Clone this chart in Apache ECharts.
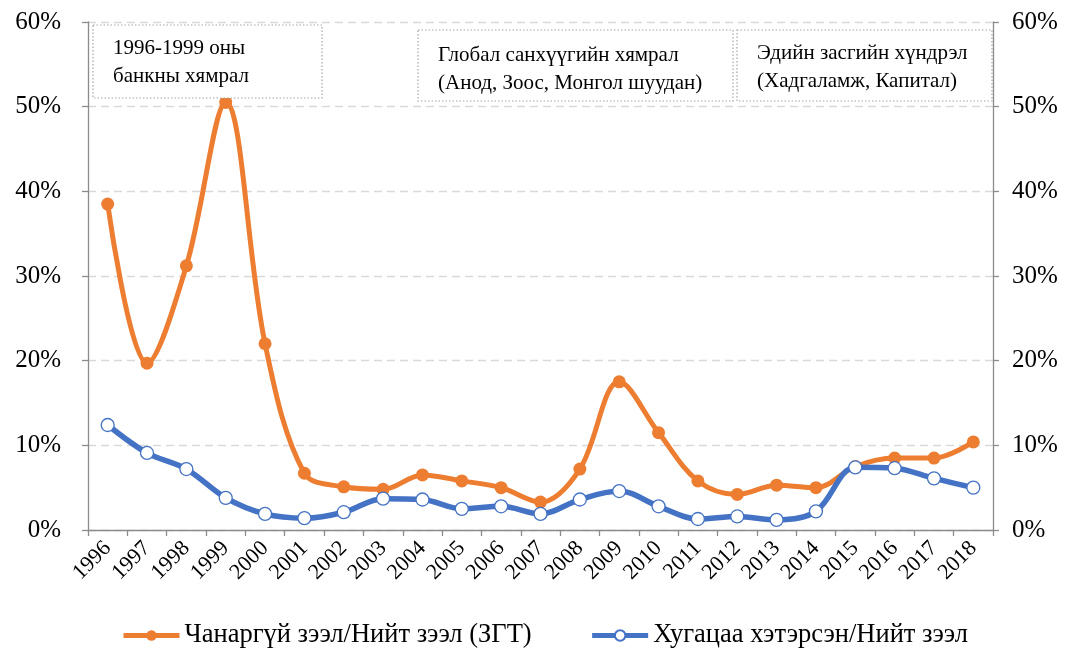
<!DOCTYPE html>
<html>
<head>
<meta charset="utf-8">
<script src="https://cdn.jsdelivr.net/npm/echarts@6/dist/echarts.min.js"></script>
<style>html,body{margin:0;padding:0;background:#fff;}#c{width:1081px;height:663px;}</style>
</head>
<body>
<div id="c"></div>
<script>
const years = ['1996','1997','1998','1999','2000','2001','2002','2003','2004','2005','2006','2007','2008','2009','2010','2011','2012','2013','2014','2015','2016','2017','2018'];
const nplRatio = [38.5,19.7,31.2,50.5,22.0,6.7,5.1,4.8,6.5,5.8,5.0,3.3,7.2,17.5,11.5,5.8,4.2,5.3,5.0,7.5,8.5,8.5,10.4];
const overdueRatio = [12.4,9.1,7.2,3.8,1.9,1.4,2.1,3.7,3.6,2.5,2.8,1.9,3.6,4.6,2.8,1.3,1.6,1.2,2.2,7.4,7.3,6.1,5.0];
const seriesNames = ['Чанаргүй зээл/Нийт зээл (ЗГТ)', 'Хугацаа хэтэрсэн/Нийт зээл'];
const notes = [
  ['1996-1999 оны', 'банкны хямрал'],
  ['Глобал санхүүгийн хямрал', '(Анод, Зоос, Монгол шуудан)'],
  ['Эдийн засгийн хүндрэл', '(Хадгаламж, Капитал)']
];

const FONT = '"Liberation Serif", "Times New Roman", serif';
const chart = echarts.init(document.getElementById('c'), null, {renderer: 'canvas'});

function box(x, y, w, h, lines, tx, ty) {
  return [
    {type: 'rect', shape: {x: x, y: y, width: w, height: h},
     style: {fill: '#fff', stroke: '#a6a6a6', lineWidth: 1.2, lineDash: [1.5, 2]}, z: 10},
    {type: 'text', x: tx, y: ty,
     style: {text: lines.join('\n'), font: '21px ' + FONT, fill: '#000', lineHeight: 28}, z: 11}
  ];
}

const yAxisCommon = {
  type: 'value', min: 0, max: 60, interval: 10,
  axisLine: {show: true, lineStyle: {color: '#8c8c8c', width: 1.3}},
  axisTick: {show: true, length: 6, lineStyle: {color: '#8c8c8c', width: 1.3}},
  axisLabel: {formatter: '{value}%', fontFamily: FONT, fontSize: 25, color: '#000'}
};

chart.setOption({
  animation: false,
  grid: {left: 88, right: 88, top: 22, bottom: 133},
  legend: {
    bottom: 9, left: 116,
    itemWidth: 56, itemHeight: 13, itemGap: 58,
    lineStyle: {width: 5},
    textStyle: {fontFamily: FONT, fontSize: 26.5, color: '#000'},
    data: seriesNames
  },
  xAxis: {
    type: 'category', data: years, boundaryGap: true,
    axisLine: {lineStyle: {color: '#8c8c8c', width: 1.3}},
    axisTick: {show: true, length: 6, alignWithLabel: false, lineStyle: {color: '#8c8c8c', width: 1.3}},
    axisLabel: {rotate: 45, interval: 0, fontFamily: FONT, fontSize: 22, color: '#000', margin: 15}
  },
  yAxis: [
    Object.assign({}, yAxisCommon, {
      position: 'left',
      axisLabel: Object.assign({}, yAxisCommon.axisLabel, {margin: 27}),
      splitLine: {show: true, lineStyle: {color: '#d9d9d9', type: [8, 5], width: 1.3}}
    }),
    Object.assign({}, yAxisCommon, {
      position: 'right',
      axisLabel: Object.assign({}, yAxisCommon.axisLabel, {margin: 19}),
      splitLine: {show: false}
    })
  ],
  series: [
    {
      name: seriesNames[0], type: 'line', data: nplRatio, smooth: 0.35,
      symbol: 'circle', symbolSize: 13,
      lineStyle: {color: '#ED7D31', width: 5},
      itemStyle: {color: '#ED7D31', borderColor: '#ED7D31', borderWidth: 0},
      z: 3
    },
    {
      name: seriesNames[1], type: 'line', data: overdueRatio, smooth: 0.35,
      symbol: 'circle', symbolSize: 13,
      lineStyle: {color: '#4472C4', width: 5.5},
      itemStyle: {color: '#ffffff', borderColor: '#4472C4', borderWidth: 1.3},
      z: 4
    }
  ],
  graphic: [].concat(
    box(93, 25, 229, 73, notes[0], 113, 34),
    box(418, 30, 315, 71, notes[1], 438, 41),
    box(737, 30, 255, 71, notes[2], 757, 39)
  )
});
</script>
</body>
</html>
